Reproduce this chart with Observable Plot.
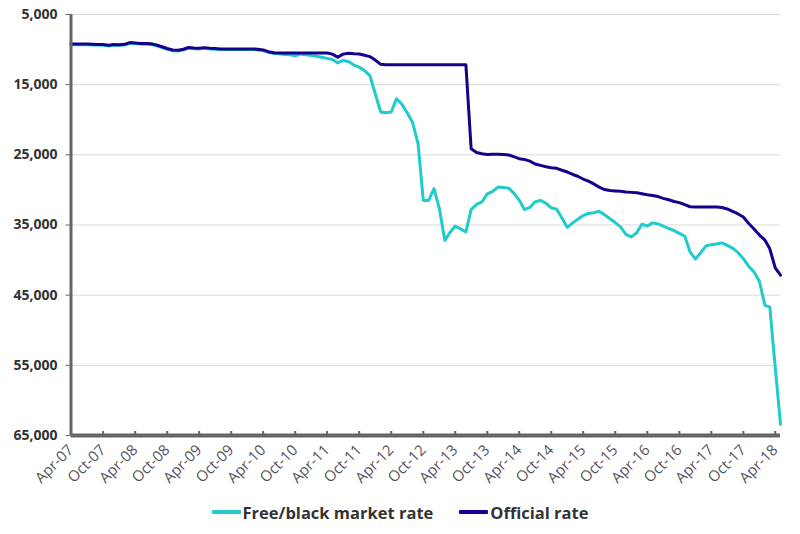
<!DOCTYPE html>
<html>
<head>
<meta charset="utf-8">
<script src="https://cdn.jsdelivr.net/npm/d3@7"></script>
<script src="https://cdn.jsdelivr.net/npm/@observablehq/plot@0.6"></script>
<style>
  body { margin: 0; background: #fff; font-family: "Open Sans", sans-serif; }
  #chart { width: 800px; height: 495px; }
  #legend { width: 800px; height: 34px; display: flex; justify-content: center; align-items: center;
            font-family: "Open Sans", sans-serif; font-weight: 700; font-size: 16.5px; color: #333; }
  .item { display: flex; align-items: center; }
  .item + .item { margin-left: 26px; }
  .sw { width: 29px; height: 4px; margin-right: 2px; border-radius: 1px; }
</style>
</head>
<body>
<div id="chart"></div>
<div id="legend"></div>
<script>
// ---- data (monthly, starting Apr-2007) ----
const startMonth = "2007-04";
const seriesNames = ["Free/black market rate", "Official rate"];
const seriesColors = ["#1fcbcb", "#16008c"];

const freeMarket = [
  9300, 9300, 9310, 9320, 9340, 9360, 9380, 9480, 9380, 9400, 9350, 9100,
  9150, 9220, 9250, 9280, 9450, 9700, 9950, 10150, 10200, 10050, 9800, 9880,
  9900, 9820, 9900, 9950, 10000, 10000, 10000, 10000, 10000, 10000, 10000, 10050,
  10150, 10400, 10550, 10600, 10700, 10750, 10880, 10620, 10750, 10850, 10950, 11100,
  11250, 11400, 11900, 11550, 11700, 12200, 12500, 13000, 13700, 16300, 18900, 19000,
  18900, 17000, 17800, 19000, 20400, 23400, 31500, 31500, 29800, 32700, 37200, 36100,
  35150, 35550, 36000, 32800, 32050, 31700, 30570, 30200, 29600, 29650, 29750, 30450,
  31450, 32800, 32500, 31700, 31500, 31900, 32550, 32750, 34000, 35350, 34700, 34200,
  33650, 33350, 33250, 33050, 33550, 34100, 34650, 35300, 36350, 36700, 36100, 34900,
  35150, 34700, 34850, 35150, 35500, 35800, 36200, 36600, 38850, 39850, 38900, 38000,
  37800, 37700, 37550, 37900, 38300, 38950, 39800, 40900, 41700, 43050, 46450, 46700,
  55300, 63400
];

const official = [
  9200, 9200, 9210, 9220, 9240, 9260, 9280, 9380, 9280, 9300, 9250, 9000,
  9050, 9120, 9150, 9180, 9350, 9600, 9850, 10050, 10100, 9950, 9700, 9780,
  9800, 9720, 9800, 9850, 9900, 9900, 9900, 9900, 9900, 9900, 9900, 9950,
  10050, 10300, 10450, 10470, 10470, 10470, 10470, 10470, 10470, 10470, 10470, 10470,
  10500, 10650, 11100, 10650, 10520, 10600, 10620, 10800, 11000, 11500, 12100, 12150,
  12150, 12150, 12150, 12150, 12150, 12150, 12150, 12150, 12150, 12150, 12150, 12150,
  12150, 12150, 12150, 24150, 24670, 24850, 24950, 24900, 24900, 24950, 25030, 25250,
  25550, 25650, 25900, 26300, 26500, 26700, 26850, 26920, 27200, 27450, 27800, 28050,
  28450, 28750, 29150, 29600, 29950, 30080, 30140, 30200, 30290, 30350, 30400, 30550,
  30700, 30800, 30950, 31200, 31400, 31650, 31810, 32100, 32400, 32430, 32430, 32430,
  32430, 32430, 32500, 32710, 33070, 33430, 33860, 34790, 35570, 36430, 37150, 38400,
  41100, 42150
];

const xTickLabels = ["Apr-07","Oct-07","Apr-08","Oct-08","Apr-09","Oct-09","Apr-10","Oct-10",
  "Apr-11","Oct-11","Apr-12","Oct-12","Apr-13","Oct-13","Apr-14","Oct-14","Apr-15","Oct-15",
  "Apr-16","Oct-16","Apr-17","Oct-17","Apr-18"];
const yTicks = [5000, 15000, 25000, 35000, 45000, 55000, 65000];

// ---- build table ----
const start = d3.utcParse("%Y-%m")(startMonth);
const parseTick = d3.utcParse("%b-%y");
const xTicks = xTickLabels.map(parseTick);
const rows = [];
[freeMarket, official].forEach((arr, s) => {
  arr.forEach((v, i) => rows.push({date: d3.utcMonth.offset(start, i), value: v, series: seriesNames[s]}));
});
const lastDate = d3.utcMonth.offset(start, freeMarket.length - 1);

const W = 800, H = 495, mTop = 14, mBottom = 60;

const chart = Plot.plot({
  width: W,
  height: H,
  marginLeft: 70.5,
  marginRight: 20,
  marginTop: mTop,
  marginBottom: mBottom,
  style: {fontFamily: "Open Sans, sans-serif", background: "#fff", overflow: "visible"},
  x: {type: "utc", domain: [start, lastDate]},
  y: {domain: [5000, 65000], reverse: true},
  color: {domain: seriesNames, range: seriesColors},
  marks: [
    Plot.gridY(yTicks, {stroke: "#d9d9d9", strokeOpacity: 1, strokeWidth: 1}),
    Plot.axisY(yTicks, {tickFormat: d3.format(","), tickSize: 5, tickPadding: 8.5, stroke: "#666",
      fontSize: 14, fontWeight: 700, fill: "#333", label: null}),
    Plot.axisX(xTicks, {tickFormat: d3.utcFormat("%b-%y"), tickSize: 0, tickPadding: 12, tickRotate: -45,
      fontSize: 15, fontWeight: 500, fill: "#555", label: null}),
    Plot.tickX(xTicks, {stroke: "#666", strokeWidth: 2, insetTop: H - mTop - mBottom - 4}),
    Plot.line(rows.filter(d => d.series === seriesNames[0]), {x: "date", y: "value", stroke: "series",
      strokeWidth: 3, strokeLinejoin: "round"}),
    Plot.line(rows.filter(d => d.series === seriesNames[1]), {x: "date", y: "value", stroke: "series",
      strokeWidth: 3, strokeLinejoin: "round"}),
    Plot.ruleX([start], {y1: 5000, y2: 65000, stroke: "#666", strokeWidth: 3}),
    Plot.ruleY([65000], {stroke: "#666", strokeWidth: 4})
  ]
});
document.getElementById("chart").appendChild(chart);

// ---- legend ----
const legend = document.getElementById("legend");
seriesNames.forEach((name, i) => {
  const item = document.createElement("div");
  item.className = "item";
  const sw = document.createElement("span");
  sw.className = "sw";
  sw.style.background = seriesColors[i];
  const label = document.createElement("span");
  label.textContent = name;
  item.appendChild(sw);
  item.appendChild(label);
  legend.appendChild(item);
});
</script>
</body>
</html>
